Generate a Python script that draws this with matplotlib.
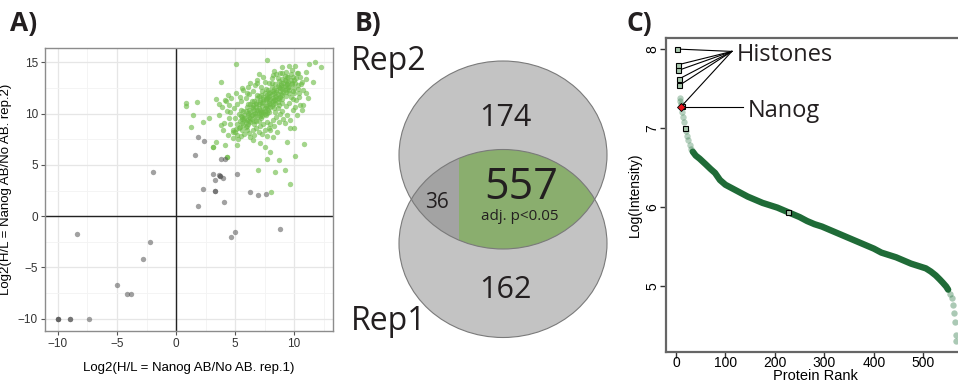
import numpy as np
import matplotlib.pyplot as plt
from matplotlib.patches import Ellipse, Polygon, Rectangle

# ---------------- data ----------------
# Panel A: significant (green) and non-significant (gray) proteins, rep1 vs rep2
green_x = [5.05, 7.71, 3.78, 0.85, 0.85, 1.75, 1.47, 1.24, 2.31, 2.82, 3.16, 3.36, 4.15, 4.35,
           4.43, 4.15, 3.36, 3.64, 4.07, 4.57, 4.86, 5.14, 5.28, 5.56, 6.89, 7.06, 8.25, 8.95,
           9.52, 10.08, 10.22, 10.99, 11.3, 11.81, 12.26, 11.64, 11.02, 10.45, 10.65, 10.17,
           9.66, 10.0, 9.66, 10.85, 10.08, 9.24, 9.66, 8.42, 6.98, 8.73, 7.68, 7.96, 7.54, 7.12,
           6.55, 8.25, 8.53, 9.24, 9.43, 5.99, 6.27, 7.26, 7.74, 7.96, 10.22, 9.89, 10.65, 10.79,
           3.14, 4.3, 8.05,
           5.2, 5.4, 5.6, 5.8, 5.5, 6.0, 6.1, 6.3, 6.2, 6.4, 6.5, 6.6, 6.7, 6.8, 6.9, 7.0, 7.1,
           7.2, 7.3, 7.4, 7.5, 7.6, 7.7, 7.8, 7.9, 8.0, 8.1, 8.2, 8.3, 8.4, 8.5, 8.6, 8.7, 8.8,
           8.9, 9.0, 9.1, 9.2, 9.3, 9.4, 9.5, 9.6, 9.7, 9.8,
           5.3, 5.7, 6.0, 6.3, 6.6, 6.9, 7.2, 7.5, 7.8, 8.1, 8.4, 8.7, 9.0, 9.3, 9.6,
           5.0, 5.3, 5.7, 6.0, 6.3, 6.6, 6.9, 7.2, 7.5, 7.8, 8.1, 8.4, 8.7, 9.0,
           6.5, 6.8, 7.1, 7.4, 7.0, 7.3, 7.6, 7.9, 8.2, 8.5, 6.4, 6.1, 5.9, 5.6, 7.7, 8.0, 8.3,
           8.6, 8.9, 9.2, 6.7, 7.0, 7.3, 7.6, 7.9, 6.2, 5.8, 7.1, 7.4, 7.7, 8.0, 8.3, 8.6, 8.9,
           9.2, 9.5, 9.8, 10.0, 10.2, 9.9, 9.4,
           4.6, 4.8, 5.0, 4.5, 4.3, 4.9, 5.2, 5.5, 5.9, 6.2, 6.5, 6.1, 6.7, 7.2, 7.5, 7.9, 8.1,
           8.5, 8.8, 9.3, 9.8, 10.3, 10.5, 10.6, 10.3, 10.0, 10.4, 9.9, 9.6, 9.3, 9.0, 8.8, 8.5,
           8.2, 8.0, 7.7, 7.4, 7.1, 6.8, 6.5, 6.2, 5.8, 5.5, 5.2, 4.8, 4.4, 4.0, 3.8, 3.6, 3.9,
           4.2, 4.7, 5.1, 5.7, 6.3, 6.9, 7.4, 8.3, 9.0, 9.6, 11.0, 10.8, 11.2, 10.5, 10.1, 9.4,
           9.1, 8.7, 8.3, 7.9, 7.5, 7.0, 6.6, 8.6, 9.0, 8.4, 6.0, 5.4, 4.5,
           5.4, 5.6, 5.9, 6.1, 6.4, 6.6, 6.8, 6.9, 7.0, 7.2, 7.3, 7.5, 7.6, 7.7, 7.9, 8.0, 8.2,
           8.3, 8.4, 8.6, 8.7, 8.8, 9.0, 9.1, 9.3, 9.4, 9.6, 9.7, 6.2, 6.5, 6.8, 7.1, 7.4, 7.7,
           7.9, 8.2, 8.5, 8.8, 9.1, 9.4, 6.1, 6.4, 6.9, 7.3, 7.0, 5.9, 5.5, 5.8, 6.3, 7.6, 8.1,
           8.6, 9.2, 9.7, 10.1, 10.3, 10.0, 9.9, 5.1, 5.6]
green_y = [14.83, 15.19, 13.08, 11.06, 10.73, 11.09, 9.85, 8.71, 9.2, 9.53, 6.76, 7.25, 6.92, 5.78,
           11.81, 11.32, 11.41, 10.93, 9.1, 10.11, 8.22, 6.92, 7.57, 12.46, 12.95, 13.86, 13.76,
           13.92, 13.6, 14.64, 13.99, 14.08, 14.83, 15.06, 14.57, 13.11, 11.97, 12.03, 13.11,
           11.32, 9.36, 8.55, 8.55, 6.99, 5.85, 4.48, 3.18, 4.32, 4.48, 5.46, 5.62, 6.27, 6.76,
           7.09, 7.41, 7.74, 8.23, 9.04, 7.25, 8.39, 7.74, 8.06, 7.8, 8.39, 9.85, 10.34, 10.34,
           10.83, 6.72, 5.76, 2.33,
           9.0, 9.3, 9.1, 9.6, 9.8, 9.4, 9.9, 10.2, 9.7, 9.5, 10.0, 10.4, 9.8, 10.6, 10.2, 10.9,
           10.4, 10.0, 10.7, 11.1, 10.5, 11.3, 10.8, 11.6, 11.0, 11.4, 11.9, 11.2, 12.0, 11.6,
           12.3, 11.9, 12.6, 12.2, 12.8, 12.4, 13.0, 12.7, 13.2, 12.9, 13.1, 12.6, 13.3, 13.0,
           8.6, 8.9, 8.8, 9.2, 9.3, 9.7, 9.6, 10.0, 10.4, 10.7, 11.0, 11.4, 11.8, 12.1, 12.3,
           9.6, 10.0, 10.3, 10.6, 10.9, 11.2, 11.5, 11.8, 12.0, 12.3, 12.6, 12.9, 13.2, 13.4,
           10.8, 11.0, 11.3, 11.6, 10.1, 10.3, 10.7, 11.2, 11.5, 11.7, 10.6, 10.1, 9.2, 9.5, 11.8,
           12.1, 12.4, 12.7, 13.0, 13.3, 10.1, 10.5, 11.0, 11.4, 11.7, 9.3, 9.9, 9.8, 10.2, 10.1,
           10.9, 11.3, 11.5, 11.9, 12.3, 12.6, 12.9, 13.3, 13.5, 13.6, 13.6,
           9.0, 8.4, 8.2, 9.6, 10.3, 10.5, 10.9, 11.2, 11.5, 11.9, 12.2, 12.6, 12.8, 12.6, 13.1,
           13.0, 13.5, 13.9, 14.0, 14.1, 14.3, 14.0, 13.6, 12.9, 12.4, 12.0, 11.6, 11.4, 11.0,
           10.7, 10.3, 10.0, 9.7, 9.4, 9.0, 9.2, 9.0, 8.8, 8.6, 8.4, 8.1, 8.0, 7.8, 7.9, 7.6, 7.9,
           8.4, 8.9, 9.9, 10.6, 11.2, 11.5, 12.0, 12.3, 13.0, 13.3, 13.6, 14.2, 14.5, 14.6, 13.4,
           12.3, 11.5, 10.8, 10.6, 9.9, 9.5, 9.2, 8.8, 8.6, 8.4, 8.2, 7.9, 10.5, 11.0, 10.2, 12.0,
           11.6, 10.8,
           8.7, 9.7, 8.7, 9.0, 9.9, 9.0, 9.3, 10.4, 9.3, 10.2, 9.8, 10.3, 9.9, 10.5, 10.2, 10.6,
           10.9, 10.5, 11.3, 11.1, 10.8, 11.6, 11.4, 12.1, 11.7, 12.4, 12.0, 11.6, 10.4, 10.5,
           10.9, 11.1, 11.4, 11.5, 12.0, 12.2, 12.1, 12.5, 12.6, 12.9, 10.9, 11.2, 11.8, 12.2,
           11.7, 10.3, 10.4, 9.4, 9.6, 12.4, 13.0, 13.5, 13.7, 13.9, 13.0, 12.8, 12.5, 12.2,
           8.5, 8.4]
gray_x = [1.61, 3.81, 4.15, -1.95, 3.14, 3.73, 3.73, 3.98, 5.17, 3.3, 2.29, 3.3, 3.3, 6.27,
          6.95, 7.63, 4.07, 1.86, -8.39, 5.0, 4.66, 8.81, -2.2, -2.8, -5.0, -4.15, -3.8,
          -10.0, -10.0, -10.0, -9.0, -9.0, -7.4, 1.86, 2.37, 3.6]
gray_y = [5.94, 5.55, 5.55, 4.29, 4.1, 3.95, 3.95, 3.7, 4.1, 3.5, 2.63, 2.5, 2.5, 2.33,
          2.04, 2.14, 1.36, 0.97, -1.76, -1.57, -2.06, -1.28, -2.55, -4.2, -6.75, -7.6, -7.6,
          -10.0, -10.0, -10.0, -10.0, -10.0, -10.0, 7.68, 7.31, 4.0]

# Panel B: Venn counts
only_rep2 = 174
only_rep1 = 162
both_sig = 557
both_nonsig = 36

# Panel C: ranked log intensities
rank_start = [8, 9, 10, 13, 14, 16, 20, 23, 25, 28, 31]
int_start = [7.38, 7.34, 7.30, 7.20, 7.14, 7.08, 6.96, 6.90, 6.85, 6.78, 6.73]
rank_main = [34, 40, 48, 60, 70, 79, 89, 100, 115, 130, 145, 160, 175, 190, 205, 220, 235, 250,
             265, 280, 295, 310, 325, 340, 355, 370, 385, 400, 415, 430, 445, 460, 475, 490,
             505, 515, 525, 533, 539, 546, 550]
int_main = [6.70, 6.65, 6.61, 6.54, 6.48, 6.43, 6.34, 6.28, 6.23, 6.18, 6.13, 6.09, 6.05, 6.02,
            5.99, 5.95, 5.91, 5.87, 5.82, 5.78, 5.75, 5.71, 5.67, 5.63, 5.59, 5.55, 5.51, 5.47,
            5.42, 5.39, 5.36, 5.32, 5.28, 5.25, 5.22, 5.18, 5.13, 5.08, 5.04, 4.99, 4.95]
rank_end = [553, 557, 559, 561, 563, 565, 566]
int_end = [4.90, 4.85, 4.76, 4.66, 4.54, 4.38, 4.30]
histone_rank = [2, 4, 5, 6, 7, 12]
histone_int = [8.0, 7.80, 7.73, 7.62, 7.54, 7.28]
other_sq_rank = [18, 226]
other_sq_int = [7.0, 5.94]
nanog_rank = 11
nanog_int = 7.26

W, H = 958, 385
fig = plt.figure(figsize=(W / 100, H / 100), dpi=100)
plt.rcParams['font.family'] = ['Liberation Sans', 'DejaVu Sans']
label_font = 'Open Sans'

# ---------------- panel A ----------------
axA = fig.add_axes([45 / W, 1 - 331 / H, 288 / W, 283 / H])
axA.set_xlim(-11.1, 13.3)
axA.set_ylim(-11.2, 16.4)
axA.set_xticks([-10, -5, 0, 5, 10])
axA.set_yticks([-10, -5, 0, 5, 10, 15])
axA.set_xticks([-7.5, -2.5, 2.5, 7.5, 12.5], minor=True)
axA.set_yticks([-7.5, -2.5, 2.5, 7.5, 12.5], minor=True)
axA.grid(which='major', color='#e6e6e6', lw=0.9)
axA.grid(which='minor', color='#f3f3f3', lw=0.6)
axA.set_axisbelow(True)
axA.axhline(0, color='#222222', lw=1.0, zorder=1)
axA.axvline(0, color='#222222', lw=1.0, zorder=1)
axA.scatter(green_x, green_y, s=15, color='#6cbc45', alpha=0.62, lw=0, zorder=2)
axA.scatter(gray_x, gray_y, s=15, color='#555555', alpha=0.55, lw=0, zorder=2)
for s in axA.spines.values():
    s.set_color('#8c8c8c')
    s.set_linewidth(1.0)
axA.tick_params(which='major', length=3, color='#555555', labelsize=8.5, labelcolor='#333333', pad=2)
axA.tick_params(which='minor', length=0)
axA.set_xticklabels(['\u221210', '\u22125', '0', '5', '10'])
axA.set_yticklabels(['\u221210', '\u22125', '0', '5', '10', '15'])
axA.set_xlabel('Log2(H/L = Nanog AB/No AB. rep.1)', fontsize=9.5, labelpad=9)
axA.set_ylabel('Log2(H/L = Nanog AB/No AB. rep.2)', fontsize=9.5, labelpad=4)

# ---------------- panel B (pixel coordinates) ----------------
axB = fig.add_axes([340 / W, 0, 290 / W, 1])
axB.set_xlim(340, 630)
axB.set_ylim(H, 0)
axB.axis('off')
cx, cy1, cy2, ew, eh = 503, 155, 243.5, 208, 188
fill_c = '#c3c3c3'
axB.add_patch(Ellipse((cx, cy1), ew, eh, facecolor=fill_c, edgecolor='none'))
axB.add_patch(Ellipse((cx, cy2), ew, eh, facecolor=fill_c, edgecolor='none'))
# lens = lower arc of top ellipse + upper arc of bottom ellipse
ym = (cy1 + cy2) / 2
t0 = np.arcsin((ym - cy1) / (eh / 2))
t = np.linspace(t0, np.pi - t0, 80)
low_arc = np.column_stack([cx + ew / 2 * np.cos(t), cy1 + eh / 2 * np.sin(t)])
up_arc = np.column_stack([cx - ew / 2 * np.cos(t), cy2 - eh / 2 * np.sin(t)])
lens = np.vstack([low_arc, up_arc])
split_x = 459
for color, x0, x1 in [('#a3a3a3', 380, split_x), ('#8aae6e', split_x, 620)]:
    p = Polygon(lens, facecolor=color, edgecolor='none')
    axB.add_patch(p)
    clip = Rectangle((x0, 0), x1 - x0, H, transform=axB.transData)
    p.set_clip_path(clip)
axB.add_patch(Ellipse((cx, cy1), ew, eh, fill=False, edgecolor='#7a7a7a', lw=0.8))
axB.add_patch(Ellipse((cx, cy2), ew, eh, fill=False, edgecolor='#7a7a7a', lw=0.8))
tc = '#231f20'
axB.text(351, 62, 'Rep2', fontsize=23, family=label_font, color=tc, ha='left', va='center')
axB.text(351, 322, 'Rep1', fontsize=23, family=label_font, color=tc, ha='left', va='center')
axB.text(505, 118, str(only_rep2), fontsize=22, family=label_font, color=tc, ha='center', va='center')
axB.text(505, 290, str(only_rep1), fontsize=22, family=label_font, color=tc, ha='center', va='center')
axB.text(521, 188, str(both_sig), fontsize=31, family=label_font, color=tc, ha='center', va='center')
axB.text(520, 217, 'adj. p<0.05', fontsize=11, family=label_font, color=tc, ha='center', va='center')
axB.text(437, 202, str(both_nonsig), fontsize=15, family=label_font, color=tc, ha='center', va='center')

# ---------------- panel C ----------------
axC = fig.add_axes([666 / W, 1 - 352 / H, 298 / W, 314 / H])
axC.set_xlim(-20, 582)
axC.set_ylim(4.16, 8.14)
axC.plot(rank_main, int_main, color='#1f6b37', lw=4.6, solid_capstyle='round',
         solid_joinstyle='round', zorder=2)
axC.plot(rank_start, int_start, 'o', color='#2f7a48', alpha=0.35, ms=4.6, mew=0, zorder=2)
axC.plot(rank_end, int_end, 'o', color='#2f7a48', alpha=0.4, ms=4.6, mew=0, zorder=2)
for r, v in zip(histone_rank, histone_int):
    axC.plot([r, 113], [v, 7.97], color='black', lw=0.8, zorder=3)
axC.plot([nanog_rank, 135], [nanog_int, nanog_int], color='black', lw=0.8, zorder=3)
axC.plot(histone_rank + other_sq_rank, histone_int + other_sq_int, 's', ms=3.6,
         mfc='#a9c9ae', mec='black', mew=0.8, zorder=4)
axC.plot(nanog_rank, nanog_int, 'D', ms=4.2, mfc='#e8141c', mec='black', mew=0.6, zorder=5)
axC.text(123, 7.92, 'Histones', fontsize=17, family=label_font, color=tc, ha='left', va='center')
axC.text(146, 7.22, 'Nanog', fontsize=17, family=label_font, color=tc, ha='left', va='center')
axC.set_xticks([0, 100, 200, 300, 400, 500])
axC.set_yticks([5, 6, 7, 8])
axC.tick_params(axis='x', length=4, width=1, color='#333333', labelsize=10, pad=-1)
axC.tick_params(axis='y', length=4, width=1, color='#333333', labelsize=10, pad=1)
for lab in axC.get_yticklabels():
    lab.set_rotation(90)
    lab.set_va('center')
for s in axC.spines.values():
    s.set_color('#666666')
    s.set_linewidth(1.6)
axC.set_xlabel('Protein Rank', fontsize=10.5, labelpad=-1)
axC.set_ylabel('Log(Intensity)', fontsize=10, labelpad=2)

# panel letters
for x, lab in [(10, 'A)'), (355, 'B)'), (626, 'C)')]:
    fig.text(x / W, 1 - 24 / H, lab, fontsize=19, fontweight='bold', family=label_font,
             color=tc, ha='left', va='center')

fig.savefig('out.png', dpi=100)
